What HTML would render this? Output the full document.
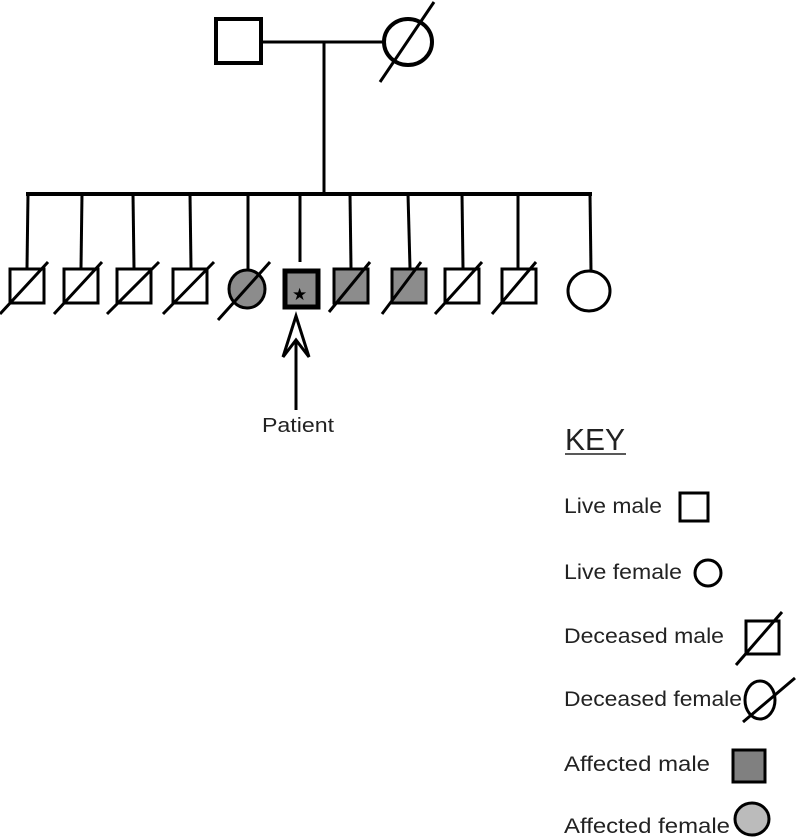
<!DOCTYPE html>
<html><head><meta charset="utf-8"><style>
html,body{margin:0;padding:0;background:#fff;}
svg{display:block;}
text{font-family:"Liberation Sans",sans-serif;fill:#222;}
</style></head><body>
<svg width="797" height="839" viewBox="0 0 797 839" xmlns="http://www.w3.org/2000/svg">
<g stroke="#000" fill="none">
<!-- parents -->
<rect x="216" y="19" width="45" height="44" stroke-width="4"/>
<line x1="261" y1="42" x2="384" y2="42" stroke-width="3"/>
<ellipse cx="408" cy="42" rx="24" ry="23" stroke-width="4"/>
<line x1="380" y1="82" x2="434" y2="2" stroke-width="3"/>
<line x1="324" y1="42" x2="324" y2="193" stroke-width="3"/>
<!-- sibship line -->
<line x1="26" y1="194" x2="592" y2="194" stroke-width="4"/>
<g stroke-width="3">
<line x1="28" y1="194" x2="27" y2="268"/>
<line x1="82" y1="194" x2="81" y2="268"/>
<line x1="133" y1="194" x2="134" y2="268"/>
<line x1="190" y1="194" x2="191" y2="268"/>
<line x1="248" y1="194" x2="248" y2="269"/>
<line x1="300" y1="194" x2="300" y2="262"/>
<line x1="350" y1="194" x2="351" y2="268"/>
<line x1="408" y1="194" x2="410" y2="268"/>
<line x1="462" y1="194" x2="463" y2="268"/>
<line x1="518" y1="194" x2="518" y2="268"/>
<line x1="590" y1="194" x2="591" y2="271"/>
</g>
<!-- children -->
<g stroke-width="3">
<rect x="10" y="269" width="34" height="34"/><line x1="0" y1="314" x2="48" y2="262"/>
<rect x="64" y="269" width="34" height="34"/><line x1="54" y1="314" x2="102" y2="262"/>
<rect x="117" y="269" width="34" height="34"/><line x1="107" y1="314" x2="159" y2="262"/>
<rect x="173" y="269" width="34" height="34"/><line x1="163" y1="314" x2="214" y2="262"/>
<ellipse cx="247" cy="289" rx="18" ry="19" fill="#8c8c8c"/><line x1="218" y1="320" x2="270" y2="262"/>
<rect x="285" y="271" width="33" height="36" fill="#8c8c8c" stroke-width="5"/>
<rect x="334" y="269" width="34" height="34" fill="#8c8c8c"/><line x1="329" y1="312" x2="370" y2="262"/>
<rect x="392" y="269" width="34" height="34" fill="#8c8c8c"/><line x1="382" y1="314" x2="421" y2="262"/>
<rect x="445" y="269" width="34" height="34"/><line x1="435" y1="314" x2="482" y2="262"/>
<rect x="502" y="269" width="34" height="34"/><line x1="492" y1="314" x2="536" y2="262"/>
<ellipse cx="589" cy="291" rx="21" ry="20"/>
</g>
<!-- arrow -->
<line x1="296" y1="340" x2="296" y2="410" stroke-width="3"/>
<path d="M296 316 L283 357 L296 340 L309 357 Z" stroke-width="3" stroke-linejoin="miter"/>
<!-- key symbols -->
<rect x="680" y="493" width="28" height="28" stroke-width="3"/>
<ellipse cx="708" cy="573" rx="13" ry="13" stroke-width="3"/>
<rect x="746" y="621" width="33" height="33" stroke-width="3"/>
<line x1="736" y1="665" x2="782" y2="612" stroke-width="3"/>
<ellipse cx="760" cy="700" rx="15" ry="19" stroke-width="3"/>
<line x1="743" y1="722" x2="795" y2="678" stroke-width="3"/>
<rect x="733" y="750" width="32" height="32" fill="#808080" stroke-width="3"/>
<ellipse cx="752" cy="819" rx="17" ry="16" fill="#bbb" stroke-width="3"/>
</g>
<text x="292" y="300" font-size="17" style="fill:#000">★</text>
<text x="262" y="432" font-size="20" textLength="72" lengthAdjust="spacingAndGlyphs">Patient</text>
<text x="565" y="450" font-size="31" textLength="60" lengthAdjust="spacingAndGlyphs">KEY</text>
<line x1="565" y1="454" x2="626" y2="454" stroke="#222" stroke-width="1.5"/>
<text x="564" y="513" font-size="21" textLength="98" lengthAdjust="spacingAndGlyphs">Live male</text>
<text x="564" y="579" font-size="21" textLength="118" lengthAdjust="spacingAndGlyphs">Live female</text>
<text x="564" y="643" font-size="21" textLength="160" lengthAdjust="spacingAndGlyphs">Deceased male</text>
<text x="564" y="706" font-size="21" textLength="178" lengthAdjust="spacingAndGlyphs">Deceased female</text>
<text x="564" y="771" font-size="21" textLength="146" lengthAdjust="spacingAndGlyphs">Affected male</text>
<text x="564" y="833" font-size="21" textLength="166" lengthAdjust="spacingAndGlyphs">Affected female</text>
</svg>
</body></html>
